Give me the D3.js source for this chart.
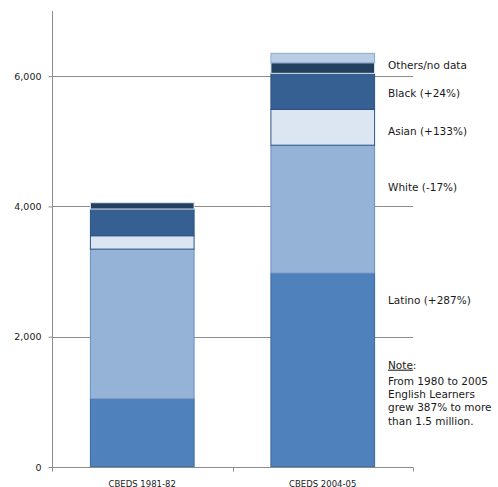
<!DOCTYPE html>
<html>
<head>
<meta charset="utf-8">
<script src="https://cdn.jsdelivr.net/npm/d3@7"></script>
<style>
  html, body { margin: 0; padding: 0; background: #fff; }
  svg { display: block; }
  text { font-family: "DejaVu Sans", "Noto Sans", sans-serif; fill: #1a1a1a; }
</style>
</head>
<body>
<svg id="chart" width="498" height="487"></svg>
<script>
// English Learners by ethnicity, CBEDS 1981-82 vs 2004-05 (thousands)
const categories = ["CBEDS 1981-82", "CBEDS 2004-05"];
const seriesNames = ["Latino", "White", "Asian", "Black", "Others", "No data"];
const latino = [1045, 2975];
const white  = [2300, 1965];
const asian  = [205, 550];
const black  = [410, 553];
const others = [97, 163];
const noData = [0, 144];
const yTicks = [0, 2000, 4000, 6000];
const seriesLabels = ["Others/no data", "Black (+24%)", "Asian (+133%)", "White (-17%)", "Latino (+287%)"];
const noteLines = ["From 1980 to 2005", "English Learners", "grew 387% to more", "than 1.5 million."];

const fills   = { "Latino": "#4f81bd", "White": "#95b3d7", "Asian": "#dce6f2", "Black": "#366092", "Others": "#244061", "No data": "#b9cde5" };
const strokes = { "Latino": "#3b659b", "White": "#6a8fc0", "Asian": "#2f5487", "Black": "#2c5180", "Others": "#dfe8f3", "No data": "#8eaad0" };

const rows = categories.map((c, i) => ({
  cat: c,
  "Latino": latino[i], "White": white[i], "Asian": asian[i],
  "Black": black[i], "Others": others[i], "No data": noData[i]
}));
const stacked = d3.stack().keys(seriesNames)(rows);

const svg = d3.select("#chart");
const plotLeft = 52, plotRight = 413, plotTop = 11, plotBottom = 467;

const x = d3.scaleBand().domain(categories).range([plotLeft, plotRight]).paddingInner(0.42).paddingOuter(0.21);
const y = d3.scaleLinear().domain([0, 7000]).range([plotBottom, plotTop]);

// horizontal gridlines
svg.append("g").selectAll("line").data(yTicks.filter(t => t > 0)).join("line")
  .attr("x1", plotLeft).attr("x2", plotRight)
  .attr("y1", d => Math.round(y(d)) + 0.5).attr("y2", d => Math.round(y(d)) + 0.5)
  .attr("stroke", "#8c8c8c").attr("stroke-width", 1);

// y axis
const yAxis = svg.append("g").attr("transform", `translate(${plotLeft + 0.5},0)`)
  .call(d3.axisLeft(y).tickValues(yTicks).tickFormat(d3.format(",")).tickSize(4).tickPadding(7));
yAxis.select(".domain").attr("d", `M0,${plotTop}V${plotBottom}`).attr("stroke", "#8c8c8c");
yAxis.selectAll(".tick line").attr("stroke", "#8c8c8c");
yAxis.selectAll(".tick text").attr("font-size", 9.5).attr("fill", "#333").style("font-family", "DejaVu Sans, sans-serif");

// stacked bars
svg.append("g").selectAll("g").data(stacked).join("g")
  .attr("fill", d => fills[d.key])
  .attr("stroke", d => strokes[d.key])
  .selectAll("rect").data(d => d.filter(s => s[1] > s[0])).join("rect")
  .attr("x", d => x(d.data.cat) + 0.5)
  .attr("width", x.bandwidth() - 1)
  .attr("y", d => y(d[1]))
  .attr("height", d => y(d[0]) - y(d[1]))
  .attr("stroke-width", 1);

// x axis with ticks at category boundaries
const xa = svg.append("g").attr("transform", `translate(0,${plotBottom + 0.5})`);
xa.append("line").attr("x1", plotLeft).attr("x2", plotRight).attr("stroke", "#8c8c8c");
const step = x.step();
xa.selectAll("line.tk").data([plotLeft, plotLeft + step, plotLeft + 2 * step]).join("line")
  .attr("class", "tk")
  .attr("x1", d => Math.round(d) + 0.5).attr("x2", d => Math.round(d) + 0.5)
  .attr("y1", 0).attr("y2", 4).attr("stroke", "#8c8c8c");
xa.selectAll("text").data(categories).join("text")
  .attr("x", d => x(d) + x.bandwidth() / 2)
  .attr("y", 19)
  .attr("text-anchor", "middle")
  .attr("font-size", 8.5)
  .attr("fill", "#222")
  .text(d => d);

// series labels beside the 2004-05 bar
const labelY = [65, 93, 131, 187, 300];
svg.append("g").selectAll("text").data(seriesLabels).join("text")
  .attr("x", 388)
  .attr("y", (d, i) => labelY[i])
  .attr("dy", "0.35em")
  .attr("font-size", 10.5)
  .text(d => d);

// note
const note = svg.append("text").attr("x", 388).attr("y", 365).attr("dy", "0.35em").attr("font-size", 10.5);
note.append("tspan").attr("text-decoration", "underline").text("Note");
note.append("tspan").text(":");
svg.append("g").selectAll("text").data(noteLines).join("text")
  .attr("x", 388)
  .attr("y", (d, i) => 381 + i * 13.4)
  .attr("dy", "0.35em")
  .attr("font-size", 10.5)
  .text(d => d);
</script>
</body>
</html>
